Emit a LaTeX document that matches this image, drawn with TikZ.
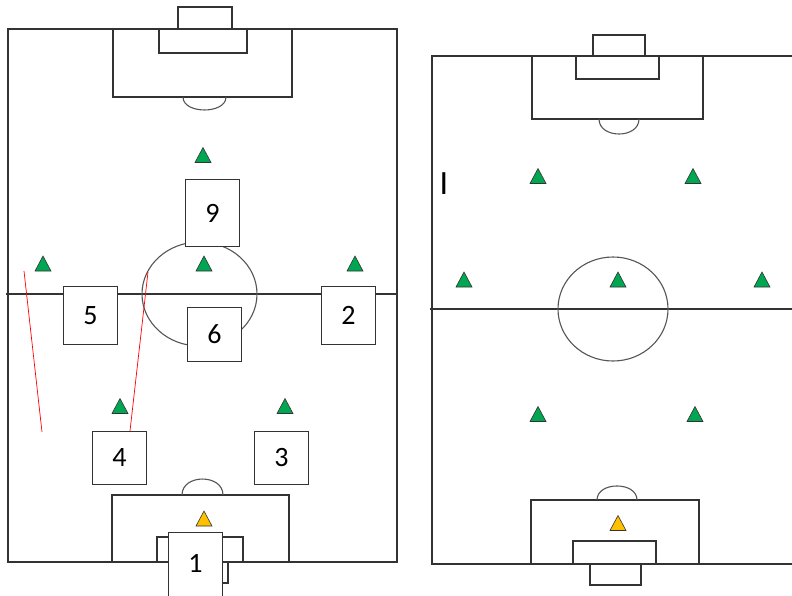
\documentclass[tikz,border=0pt]{standalone}
\usepackage{fontspec}
\setmainfont{Carlito}
\definecolor{linegray}{HTML}{333333}
\definecolor{circgray}{HTML}{555555}
\definecolor{tgreen}{HTML}{00A651}
\definecolor{tgold}{HTML}{FFC000}
\begin{document}
\begin{tikzpicture}[x=1pt,y=-1pt,
  field/.style={draw=linegray,line width=1.2pt},
  circ/.style={draw=circgray,line width=1.1pt},
  pbox/.style={draw=linegray,fill=white,line width=1pt,minimum width=54pt,inner sep=0pt,anchor=north west,font=\fontsize{28}{30}\selectfont},
  redline/.style={draw=red,line width=0.7pt},
  gtri/.pic={\draw[fill=tgreen,draw=black!80,line width=0.6pt] (-8,7.5)--(8,7.5)--(0,-7.5)--cycle;},
  otri/.pic={\draw[fill=tgold,draw=black!80,line width=0.6pt] (-8,7.5)--(8,7.5)--(0,-7.5)--cycle;}]
\useasboundingbox[fill=white] (0,0) rectangle (792,595);

% ---------- left field ----------
\draw[field] (8,29) rectangle (397,562);
\draw[field] (6,294) -- (397,294);
\draw[circ] (199.5,294) ellipse[x radius=57.5,y radius=52];
% top
\draw[field] (113,29) rectangle (292,97);
\draw[field] (159,29) rectangle (247,53);
\draw[field] (178,29) -- (178,7) -- (232,7) -- (232,29);
\draw[circ] (183,97) .. controls (183,114.3) and (226,114.3) .. (226,97);
% bottom
\draw[field] (112,562) -- (112,495) -- (289,495) -- (289,562);
\draw[field] (157,562) -- (157,537) -- (243,537) -- (243,562);
\draw[field] (178,562) -- (178,583) -- (228,583) -- (228,562);
\draw[circ] (182,495) .. controls (182,473.7) and (223,473.7) .. (223,495);

% triangles left
\pic at (203,155) {gtri};
\pic at (43,263.5) {gtri};
\pic at (204,263.5) {gtri};
\pic at (355,263.5) {gtri};
\pic at (120,406) {gtri};
\pic at (285,406) {gtri};
\pic at (204,518.5) {otri};

% numbered boxes
\node[pbox,minimum height=67pt] (p9) at (185,179) {9};
\node[pbox,minimum height=58pt] (p5) at (63,286) {5};
\node[pbox,minimum height=54pt] (p6) at (187,307) {6};
\node[pbox,minimum height=58pt] (p2) at (321,286) {2};
\node[pbox,minimum height=53pt] (p4) at (92,431) {4};
\node[pbox,minimum height=53pt] (p3) at (254,431) {3};
\node[pbox,minimum height=80pt,text depth=0pt] (p1) at (168,532) {\raisebox{19pt}{1}};

% red lines
\coordinate (ra) at (24,271);
\coordinate (rb) at (42,432);
\coordinate (rc) at (148,272);
\draw[redline] (ra) -- (rb);
\draw[redline] (rc) -- (p4.north -| 130,0);

% ---------- right field ----------
\draw[field] (792,56) -- (432,56) -- (432,564) -- (792,564);
\draw[field] (430,309) -- (792,309);
\draw[circ] (613,309) ellipse[x radius=55,y radius=52];
% top
\draw[field] (532,56) -- (532,119) -- (703,119) -- (703,56);
\draw[field] (576,56) -- (576,79) -- (659,79) -- (659,56);
\draw[field] (593,56) -- (593,35) -- (645,35) -- (645,56);
\draw[circ] (599,119) .. controls (599,139) and (639,139) .. (639,119);
% bottom
\draw[field] (531,564) -- (531,500) -- (699,500) -- (699,564);
\draw[field] (573,564) -- (573,541) -- (656,541) -- (656,564);
\draw[field] (590,564) -- (590,585) -- (641,585) -- (641,564);
\draw[circ] (597,500) .. controls (597,481.3) and (637,481.3) .. (637,500);

\node[font=\fontsize{34}{36}\selectfont,inner sep=0pt] (cur) at (444,184) {I};

\pic at (538,176) {gtri};
\pic at (693,176) {gtri};
\pic at (464,279.5) {gtri};
\pic at (618,279.5) {gtri};
\pic at (762,279.5) {gtri};
\pic at (538,414) {gtri};
\pic at (695,414) {gtri};
\pic at (618,523) {otri};
\end{tikzpicture}
\end{document}
